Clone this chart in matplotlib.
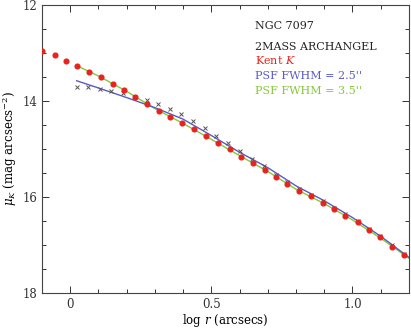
import matplotlib
matplotlib.use("Agg")
import matplotlib.pyplot as plt
from matplotlib.ticker import MultipleLocator

# Kent K profile (red points)
kent_logr = [-0.100, -0.055, -0.014, 0.025, 0.066, 0.111, 0.152, 0.192, 0.231, 0.272,
             0.313, 0.354, 0.396, 0.439, 0.480, 0.522, 0.565, 0.606, 0.648, 0.689,
             0.730, 0.769, 0.810, 0.854, 0.895, 0.935, 0.975, 1.018, 1.058, 1.099,
             1.140, 1.184]
kent_mu = [12.95, 13.05, 13.16, 13.27, 13.39, 13.51, 13.65, 13.77, 13.91, 14.06,
           14.20, 14.33, 14.46, 14.59, 14.73, 14.87, 15.01, 15.16, 15.30, 15.43,
           15.58, 15.73, 15.87, 15.98, 16.12, 16.26, 16.39, 16.53, 16.69, 16.84,
           17.04, 17.21]

# 2MASS ARCHANGEL profile (crosses)
arch_logr = [0.023, 0.064, 0.104, 0.146, 0.188, 0.231, 0.271, 0.311, 0.353, 0.393,
             0.436, 0.476, 0.518, 0.560, 0.601, 0.643, 0.687, 0.730, 0.769, 0.810,
             0.854, 0.895, 0.935, 0.975, 1.018, 1.058, 1.099, 1.140, 1.184]
arch_mu = [13.70, 13.72, 13.75, 13.79, 13.84, 13.91, 13.98, 14.07, 14.17, 14.28,
           14.41, 14.56, 14.73, 14.87, 15.04, 15.21, 15.35, 15.54, 15.68, 15.84,
           15.95, 16.09, 16.23, 16.36, 16.50, 16.66, 16.81, 17.01, 17.19]

# PSF-convolved models
psf25_logr = [0.023, 0.1, 0.2, 0.3, 0.35, 0.4, 0.5, 0.6, 0.7, 0.8, 0.9, 1.0, 1.1, 1.2]
psf25_mu = [13.58, 13.73, 13.93, 14.14, 14.26, 14.38, 14.72, 15.07, 15.39, 15.77,
            16.08, 16.43, 16.82, 17.26]
psf35_logr = [0.025, 0.1, 0.2, 0.3, 0.4, 0.5, 0.6, 0.7, 0.8, 0.9, 1.0, 1.1, 1.2]
psf35_mu = [13.27, 13.48, 13.80, 14.16, 14.47, 14.80, 15.14, 15.47, 15.84, 16.14,
            16.48, 16.86, 17.28]

RED = "#e8231c"
BLUE = "#5a5ac6"
GREEN = "#86c83a"

plt.rcParams["font.family"] = ["DejaVu Serif"]
plt.rcParams["mathtext.fontset"] = "dejavuserif"

fig = plt.figure(figsize=(4.11, 3.28), dpi=100)
ax = fig.add_axes([0.102, 0.107, 0.893, 0.878])

ax.plot(psf35_logr, psf35_mu, color=GREEN, lw=1.0, zorder=2)
ax.plot(psf25_logr, psf25_mu, color=BLUE, lw=1.0, zorder=2)
ax.plot(arch_logr, arch_mu, ls="none", marker="x", ms=3.2, mew=0.7,
        color="#555555", zorder=3)
ax.plot(kent_logr, kent_mu, ls="none", marker="o", ms=3.4, color=RED,
        mec=RED, zorder=4)

ax.set_xlim(-0.1, 1.2)
ax.set_ylim(18, 12)
ax.xaxis.set_minor_locator(MultipleLocator(0.1))
ax.yaxis.set_major_locator(MultipleLocator(2))
ax.yaxis.set_minor_locator(MultipleLocator(0.5))
ax.set_xticks([0, 0.5, 1.0])
ax.set_xticklabels(["0", "0.5", "1.0"])
ax.tick_params(which="both", direction="in", top=True, right=True,
               labelsize=8.5, width=0.7, colors="#333333")
ax.tick_params(which="major", length=5)
ax.tick_params(which="minor", length=3)
for s in ax.spines.values():
    s.set_linewidth(0.8)
    s.set_color("#444444")

ax.set_xlabel(r"log $r$ (arcsecs)", fontsize=8.5, labelpad=1)
ax.set_ylabel(r"$\mu_K$ (mag arcsecs$^{-2}$)", fontsize=8.5, labelpad=2)

tx = 0.58
ax.text(tx, 0.915, "NGC 7097", transform=ax.transAxes, fontsize=8, color="#222222")
ax.text(tx, 0.845, "2MASS ARCHANGEL", transform=ax.transAxes, fontsize=8, color="#222222")
ax.text(tx, 0.795, r"Kent $K$", transform=ax.transAxes, fontsize=8, color=RED)
ax.text(tx, 0.742, "PSF FWHM = 2.5''", transform=ax.transAxes, fontsize=8, color=BLUE)
ax.text(tx, 0.690, "PSF FWHM = 3.5''", transform=ax.transAxes, fontsize=8, color=GREEN)

fig.savefig("out.png", dpi=100)
